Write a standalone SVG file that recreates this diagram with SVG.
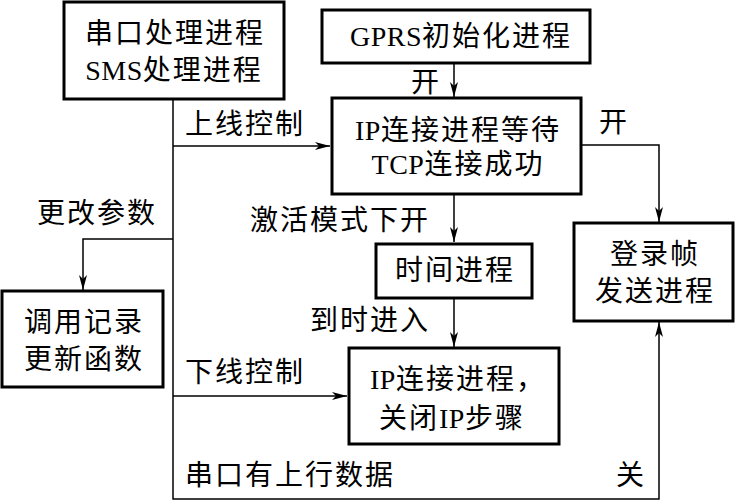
<svg xmlns="http://www.w3.org/2000/svg" width="737" height="502" viewBox="0 0 737 502">
<style>
.box{fill:#fff;stroke:#000;stroke-width:3}
.t{font-family:"Liberation Serif","Times New Roman","Noto Sans CJK SC",serif;font-size:28px;letter-spacing:2px;fill:#000;dominant-baseline:central}
.c{text-anchor:middle}
.l{letter-spacing:0.5px}
.ln{fill:none;stroke:#000;stroke-width:1.5}
</style>
<defs>
<marker id="ah" markerUnits="userSpaceOnUse" markerWidth="16" markerHeight="10" refX="15" refY="4" orient="auto">
<path d="M0,0 L15,4 L0,8 L4,4 z" fill="#000"/>
</marker>
</defs>
<rect width="737" height="502" fill="#fff"/>
<g id="connectors">
<polyline class="ln" points="173,99 173,499 659,499 659,322" marker-end="url(#ah)"/>
<line class="ln" x1="173" y1="146" x2="330" y2="146" marker-end="url(#ah)"/>
<polyline class="ln" points="173,239 83,239 83,290" marker-end="url(#ah)"/>
<line class="ln" x1="173" y1="396" x2="347" y2="396" marker-end="url(#ah)"/>
<line class="ln" x1="454" y1="63" x2="454" y2="97" marker-end="url(#ah)"/>
<line class="ln" x1="454" y1="194" x2="454" y2="242" marker-end="url(#ah)"/>
<line class="ln" x1="454" y1="298" x2="454" y2="347" marker-end="url(#ah)"/>
<polyline class="ln" points="581,145 659,145 659,222" marker-end="url(#ah)"/>
<text class="t" x="411" y="82">开</text>
<text class="t" x="599" y="122">开</text>
<text class="t" x="185" y="124">上线控制</text>
<text class="t" x="37" y="213">更改参数</text>
<text class="t" x="250" y="220">激活模式下开</text>
<text class="t" x="310" y="320">到时进入</text>
<text class="t" x="185" y="372">下线控制</text>
<text class="t" x="185" y="475">串口有上行数据</text>
<text class="t" x="616" y="475">关</text>
</g>
<g id="serial">
<rect class="box" x="64" y="2" width="220" height="97"/>
<text class="t c" x="175" y="33">串口处理进程</text>
<text class="t c" x="174" y="70"><tspan class="l">SMS</tspan>处理进程</text>
</g>
<g id="gprs">
<rect class="box" x="322" y="10" width="268" height="53"/>
<text class="t c" x="461" y="36"><tspan class="l">GPRS</tspan>初始化进程</text>
</g>
<g id="ipwait">
<rect class="box" x="332" y="98" width="249" height="96"/>
<text class="t c" x="458" y="130"><tspan class="l">IP</tspan>连接进程等待</text>
<text class="t c" x="458" y="164"><tspan class="l">TCP</tspan>连接成功</text>
</g>
<g id="timer">
<rect class="box" x="376" y="244" width="156" height="54"/>
<text class="t c" x="455" y="270">时间进程</text>
</g>
<g id="login">
<rect class="box" x="574" y="223" width="159" height="98"/>
<text class="t c" x="655" y="254">登录帧</text>
<text class="t c" x="655" y="291">发送进程</text>
</g>
<g id="update">
<rect class="box" x="2" y="291" width="161" height="96"/>
<text class="t c" x="84" y="322">调用记录</text>
<text class="t c" x="84" y="359">更新函数</text>
</g>
<g id="ipclose">
<rect class="box" x="349" y="348" width="210" height="96"/>
<text class="t c" x="458" y="379"><tspan class="l">IP</tspan>连接进程，</text>
<text class="t c" x="452" y="418">关闭<tspan class="l">IP</tspan>步骤</text>
</g>
</svg>
